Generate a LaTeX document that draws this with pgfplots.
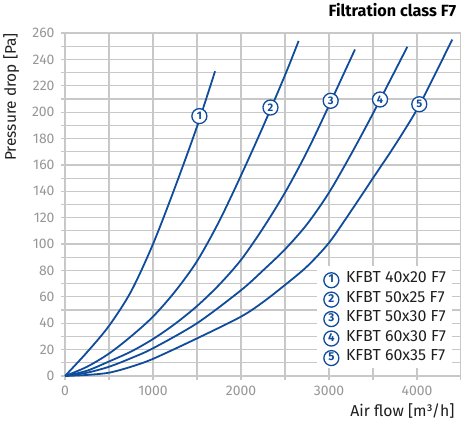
\documentclass[border=0pt]{standalone}
\usepackage{fontspec}
\setmainfont{Fira Sans}
\usepackage{pgfplots}
\pgfplotsset{compat=1.18}
\definecolor{cb}{RGB}{16,76,156}
\definecolor{gridc}{RGB}{200,200,200}
\definecolor{tickc}{RGB}{150,150,150}
\definecolor{labc}{RGB}{30,30,30}
\newcommand{\cn}[1]{\tikz[baseline=(c.base)]\node[circle,draw=cb,line width=1.3bp,fill=white,inner sep=0pt,minimum size=15bp,text=cb,font=\fontsize{11.5}{11.5}\selectfont\bfseries](c){#1};}
\tikzset{lab/.style={circle,draw=cb,line width=1.3bp,fill=white,inner sep=0pt,minimum size=15bp,text=cb,font=\fontsize{11}{11}\selectfont\bfseries},
  crv/.style={cb, line width=1.8bp, smooth, tension=0.5, mark=none}}
\begin{document}
\begin{tikzpicture}
\begin{axis}[
  at={(0,0)}, anchor=south west,
  scale only axis, width=396bp, height=343bp,
  xmin=0, xmax=4500, ymin=0, ymax=260,
  xtick={0,1000,...,4000}, minor xtick={500,1500,2500,3500,4500},
  ytick={0,20,...,260}, minor ytick={10,30,...,250},
  grid=both,
  major grid style={gridc, line width=1.2bp},
  minor grid style={gridc, line width=1.2bp},
  axis line style={draw=none},
  tick style={gridc, line width=1.2bp},
  tick align=outside, major tick length=4bp, minor tick length=4bp,
  xtick pos=bottom, ytick pos=left,
  ticklabel style={font=\fontsize{14}{14}\selectfont, text=tickc},
  /pgf/number format/assume math mode=true,
  /pgf/number format/set thousands separator={},
  xticklabel style={yshift=-3bp},
  yticklabel style={xshift=-3bp},
  title={\textbf{Filtration class F7}},
  title style={at={(axis description cs:0.997,1.05)}, anchor=east, font=\fontsize{16.3}{16.3}\selectfont, text=black},
  xlabel={Air flow [m³/h]},
  xlabel style={at={(axis description cs:0.992,-0.102)}, anchor=east, font=\fontsize{15.8}{15.8}\selectfont, text=labc},
  ylabel={Pressure drop [Pa]},
  ylabel style={at={(axis description cs:-0.136,1.009)}, anchor=east, rotate=0, font=\fontsize{15.5}{15.5}\selectfont, text=labc},
  legend image code/.code={},
  legend cell align=left,
  legend style={draw=none, fill=white, at={(axis description cs:0.978,0.022)}, anchor=south east,
    font=\fontsize{16}{16}\selectfont, text=labc, row sep=3bp, inner sep=4bp},
]
\addplot[crv] coordinates {(0,0)(250,18)(500,38)(750,64)(1000,100)(1250,143)(1500,189)(1705,231)};
\addlegendentry{\cn{1}\hspace{6.5bp}KFBT 40x20 F7}
\addplot[crv] coordinates {(0,0)(250,7)(500,17)(750,30)(1000,45)(1250,64)(1500,87)(1750,117)(2000,152)(2250,189)(2500,228)(2655,254)};
\addlegendentry{\cn{2}\hspace{6.5bp}KFBT 50x25 F7}
\addplot[crv] coordinates {(0,0)(250,4)(500,11)(750,18.5)(1000,28)(1250,39.5)(1500,53)(1750,69)(2000,88)(2250,112)(2500,139)(2750,170)(3000,205)(3295,247.5)};
\addlegendentry{\cn{3}\hspace{6.5bp}KFBT 50x30 F7}
\addplot[crv] coordinates {(0,0)(250,2.5)(500,7)(750,13.5)(1000,21)(1500,40)(2000,65)(2250,80)(2500,96)(2750,115)(3000,139)(3250,168)(3500,199)(3890,249.5)};
\addlegendentry{\cn{4}\hspace{6.5bp}KFBT 60x30 F7}
\addplot[crv] coordinates {(0,0)(250,0.8)(500,2.5)(750,7)(1000,13)(1500,28.5)(2000,45)(2250,56)(2500,69)(2750,83)(3000,101)(3250,125)(3500,150)(3750,175)(4000,202)(4200,228)(4400,255)};
\addlegendentry{\cn{5}\hspace{6.5bp}KFBT 60x35 F7}
\node[lab] at (axis cs:1527,197) {1};
\node[lab] at (axis cs:2335,203.5) {2};
\node[lab] at (axis cs:3019,208.6) {3};
\node[lab] at (axis cs:3580,209.6) {4};
\node[lab] at (axis cs:4026,206) {5};
\end{axis}
\pgfresetboundingbox
\path[use as bounding box] (-65bp,-52bp) rectangle (396bp,376bp);
\end{tikzpicture}
\end{document}
